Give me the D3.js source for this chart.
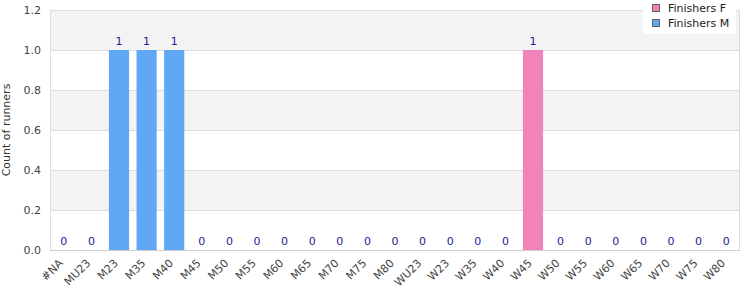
<!DOCTYPE html>
<html>
<head>
<meta charset="utf-8">
<script src="https://cdn.jsdelivr.net/npm/d3@7"></script>
<style>
  body { margin: 0; background: #fff; }
  text { font-family: "DejaVu Sans", sans-serif; }
</style>
</head>
<body>
<div id="chart"></div>
<script>
// カテゴリと系列
const categories = ["#NA", "MU23", "M23", "M35", "M40", "M45", "M50", "M55", "M60", "M65", "M70", "M75", "M80",
                    "WU23", "W23", "W35", "W40", "W45", "W50", "W55", "W60", "W65", "W70", "W75", "W80"];
const finishersF = [0, 0, 0, 0, 0, 0, 0, 0, 0, 0, 0, 0, 0, 0, 0, 0, 0, 1, 0, 0, 0, 0, 0, 0, 0];
const finishersM = [0, 0, 1, 1, 1, 0, 0, 0, 0, 0, 0, 0, 0, 0, 0, 0, 0, 0, 0, 0, 0, 0, 0, 0, 0];
const yTicks = [0, 0.2, 0.4, 0.6, 0.8, 1.0, 1.2];
const seriesNames = ["Finishers F", "Finishers M"];
const seriesColors = ["#f283ba", "#60a8f4"];

const width = 750, height = 300;
const margin = { top: 10, right: 10, bottom: 50, left: 50 };

const svg = d3.select("#chart").append("svg")
              .attr("width", width)
              .attr("height", height);

const x = d3.scaleBand()
            .domain(categories)
            .range([margin.left, width - margin.right])
            .paddingInner(0.27)
            .paddingOuter(0.135);

const y = d3.scaleLinear()
            .domain([0, 1.2])
            .range([height - margin.bottom, margin.top]);

// 背景の縞模様
for (let i = 0; i < yTicks.length - 1; i++) {
    svg.append("rect")
       .attr("x", margin.left)
       .attr("y", y(yTicks[i + 1]))
       .attr("width", width - margin.left - margin.right)
       .attr("height", y(yTicks[i]) - y(yTicks[i + 1]))
       .attr("fill", i % 2 === 1 ? "#f3f3f3" : "#ffffff");
}

// グリッド線
svg.append("g")
   .selectAll("line")
   .data(yTicks)
   .enter()
   .append("line")
   .attr("x1", margin.left)
   .attr("x2", width - margin.right)
   .attr("y1", d => Math.round(y(d)) + 0.5)
   .attr("y2", d => Math.round(y(d)) + 0.5)
   .attr("stroke", "#dddddd");

// 枠線
svg.append("rect")
   .attr("x", margin.left + 0.5)
   .attr("y", margin.top + 0.5)
   .attr("width", width - margin.left - margin.right - 1)
   .attr("height", height - margin.top - margin.bottom)
   .attr("fill", "none")
   .attr("stroke", "#dddddd");

// 積み上げ棒
const rows = categories.map((c, i) => ({ cat: c, F: finishersF[i], M: finishersM[i] }));
const stack = d3.stack().keys(["F", "M"])(rows);

svg.append("g")
   .selectAll("g")
   .data(stack)
   .enter()
   .append("g")
   .attr("fill", (d, i) => seriesColors[i])
   .selectAll("rect")
   .data(d => d)
   .enter()
   .append("rect")
   .attr("x", d => x(d.data.cat))
   .attr("y", d => y(d[1]))
   .attr("width", x.bandwidth())
   .attr("height", d => y(d[0]) - y(d[1]));

// 値ラベル
svg.append("g")
   .selectAll("text")
   .data(rows)
   .enter()
   .append("text")
   .attr("x", d => x(d.cat) + x.bandwidth() / 2)
   .attr("y", d => y(d.F + d.M) - 5)
   .attr("text-anchor", "middle")
   .attr("font-size", "11px")
   .attr("fill", "#1c1c96")
   .text(d => d.F + d.M);

// Y軸
const yAxis = svg.append("g")
   .attr("transform", `translate(${margin.left},0)`)
   .call(d3.axisLeft(y).tickValues(yTicks).tickFormat(d3.format(".1f")).tickSize(0).tickPadding(9));
yAxis.select(".domain").remove();
yAxis.selectAll("text").attr("font-size", "11px").attr("fill", "#444").attr("font-family", "DejaVu Sans");

// X軸（線のみ）
const xAxis = svg.append("g")
   .attr("transform", `translate(0,${height - margin.bottom})`)
   .call(d3.axisBottom(x).tickSize(0).tickFormat(""));
xAxis.select(".domain").attr("stroke", "#cccccc");

// X軸ラベル（45度回転）
const xLabels = svg.append("g")
   .selectAll("g")
   .data(categories)
   .enter()
   .append("g")
   .attr("transform", d => `translate(${x(d) + x.bandwidth() / 2 - 3},${height - margin.bottom + 11})`);

xLabels.append("text")
   .attr("transform", "rotate(-45)")
   .attr("text-anchor", "end")
   .attr("dy", "0.35em")
   .attr("font-size", "11px")
   .attr("fill", "#444")
   .text(d => d);

// Y軸タイトル
svg.append("text")
   .attr("transform", `translate(10,${(margin.top + height - margin.bottom) / 2}) rotate(-90)`)
   .attr("text-anchor", "middle")
   .attr("font-size", "11px")
   .attr("fill", "#333")
   .text("Count of runners");

// 凡例
const legend = svg.append("g").attr("transform", "translate(643,0)");
legend.append("rect")
      .attr("width", 93)
      .attr("height", 34)
      .attr("fill", "#ffffff");
seriesNames.forEach((name, i) => {
    legend.append("rect")
          .attr("x", 9.5)
          .attr("y", 4.5 + i * 15)
          .attr("width", 7)
          .attr("height", 7)
          .attr("fill", seriesColors[i])
          .attr("stroke", "#666");
    legend.append("text")
          .attr("x", 25)
          .attr("y", 12 + i * 15)
          .attr("font-size", "11px")
          .attr("fill", "#222")
          .text(name);
});
</script>
</body>
</html>
